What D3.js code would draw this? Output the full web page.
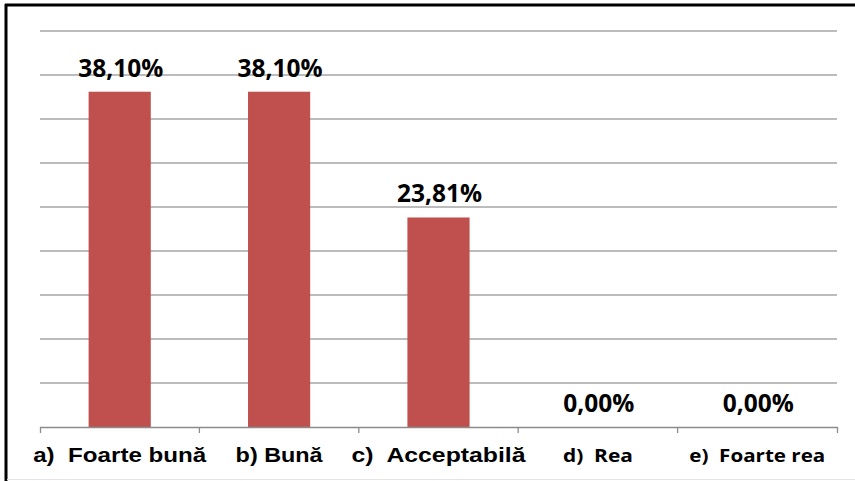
<!DOCTYPE html>
<html>
<head>
<meta charset="utf-8">
<script src="https://cdn.jsdelivr.net/npm/d3@7"></script>
<style>
  html, body { margin: 0; padding: 0; background: #fff; }
  svg { display: block; }
</style>
</head>
<body>
<svg id="chart"></svg>
<script>
// data
var categories = ['a)  Foarte bună', 'b) Bună', 'c)  Acceptabilă', 'd)  Rea', 'e)  Foarte rea'];
var values = [38.10, 38.10, 23.81, 0.00, 0.00];
var valueLabels = ['38,10%', '38,10%', '23,81%', '0,00%', '0,00%'];
var gridTicks = [5, 10, 15, 20, 25, 30, 35, 40, 45];

// layout of the category labels (the picture is stretched sideways)
var labelWidths = [173, 87, 174, 70, 136];
var labelFonts = ['"Liberation Sans", Arial, sans-serif', '"Liberation Sans", Arial, sans-serif',
  '"Liberation Sans", Arial, sans-serif', '"Open Sans", sans-serif', '"Open Sans", sans-serif'];
var labelSizes = [20.5, 20.5, 20.5, 18.5, 18.5];

var svgWidth = 855, svgHeight = 481;
var plotLeft = 40, plotRight = 837, plotTop = 31, plotBottom = 427;

var svg = d3.select('#chart')
  .attr('width', svgWidth)
  .attr('height', svgHeight);

// frame
svg.append('line')
  .attr('x1', 5).attr('x2', svgWidth).attr('y1', 5).attr('y2', 5)
  .attr('stroke', '#000').attr('stroke-width', 3);
svg.append('line')
  .attr('x1', 6).attr('x2', 6).attr('y1', 4).attr('y2', svgHeight)
  .attr('stroke', '#000').attr('stroke-width', 3);
svg.append('line')
  .attr('x1', 7).attr('x2', svgWidth).attr('y1', 479.5).attr('y2', 479.5)
  .attr('stroke', '#e4e4e4').attr('stroke-width', 1);

var x = d3.scaleBand()
  .domain(categories)
  .range([plotLeft, plotRight])
  .paddingInner(0.61)
  .paddingOuter(0.305);

var y = d3.scaleLinear()
  .domain([0, 45])
  .range([plotBottom, plotTop]);

// horizontal gridlines
svg.append('g')
  .selectAll('line')
  .data(gridTicks)
  .enter().append('line')
  .attr('x1', plotLeft).attr('x2', plotRight)
  .attr('y1', function (d) { return y(d); })
  .attr('y2', function (d) { return y(d); })
  .attr('stroke', '#a6a6a6')
  .attr('stroke-width', 1.3);

// bars
svg.append('g')
  .selectAll('rect')
  .data(values)
  .enter().append('rect')
  .attr('x', function (d, i) { return x(categories[i]); })
  .attr('y', function (d) { return y(d); })
  .attr('width', x.bandwidth())
  .attr('height', function (d) { return plotBottom - y(d); })
  .attr('fill', '#C0504D');

// value labels
svg.append('g')
  .selectAll('text')
  .data(values)
  .enter().append('text')
  .attr('x', function (d, i) { return x(categories[i]) + x.bandwidth() / 2 + 1; })
  .attr('y', function (d) { return y(d) - 15; })
  .attr('text-anchor', 'middle')
  .attr('font-family', '"Open Sans", sans-serif')
  .attr('font-weight', 700)
  .attr('font-size', 24.5)
  .attr('fill', '#000')
  .text(function (d, i) { return valueLabels[i]; });

// category axis
var axis = svg.append('g')
  .attr('transform', 'translate(0,' + plotBottom + ')')
  .call(d3.axisBottom(x).tickSizeInner(0).tickSizeOuter(6).tickPadding(0));

axis.select('.domain')
  .attr('stroke', '#8c8c8c')
  .attr('stroke-width', 1.3);

// tick marks between the categories
axis.selectAll('.sep')
  .data(categories.slice(1))
  .enter().append('line')
  .attr('class', 'sep')
  .attr('x1', function (d) { return x(d) - x.step() * x.paddingInner() / 2; })
  .attr('x2', function (d) { return x(d) - x.step() * x.paddingInner() / 2; })
  .attr('y1', 0).attr('y2', 6)
  .attr('stroke', '#8c8c8c')
  .attr('stroke-width', 1.3);

axis.selectAll('.tick text')
  .attr('y', 35)
  .attr('dy', 0)
  .attr('fill', '#000')
  .attr('font-weight', 700)
  .attr('font-family', function (d, i) { return labelFonts[i]; })
  .attr('font-size', function (d, i) { return labelSizes[i]; })
  .attr('textLength', function (d, i) { return labelWidths[i]; })
  .attr('lengthAdjust', 'spacingAndGlyphs')
  .style('white-space', 'pre');
</script>
</body>
</html>
